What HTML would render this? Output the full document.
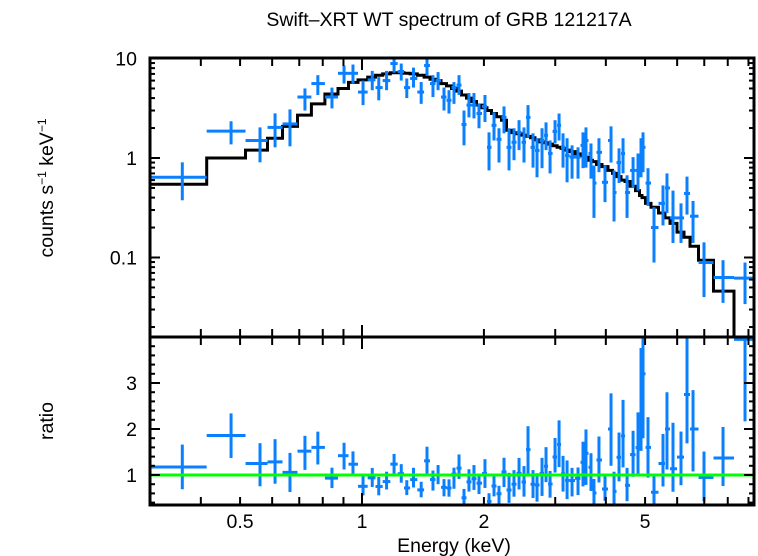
<!DOCTYPE html>
<html><head><meta charset="utf-8"><style>
html,body{margin:0;padding:0;background:#fff;}
svg{display:block;font-family:"Liberation Sans",sans-serif;}
</style></head><body>
<svg id="chart" width="758" height="556" viewBox="0 0 758 556" xmlns="http://www.w3.org/2000/svg">
<rect width="758" height="556" fill="#fff"/>
<text x="449" y="26" font-size="19.5" text-anchor="middle">Swift–XRT WT spectrum of GRB 121217A</text>
<text transform="translate(53,188) rotate(-90)" font-size="19.5" text-anchor="middle">counts s<tspan font-size="12" dy="-7">−1</tspan><tspan dy="7"> keV</tspan><tspan font-size="12" dy="-7">−1</tspan></text>
<text transform="translate(53,421) rotate(-90)" font-size="19.5" text-anchor="middle">ratio</text>
<text x="454" y="552" font-size="19.5" text-anchor="middle">Energy (keV)</text>
<g id="g-model"></g>
<g id="g-data"></g>
<g id="g-ratio"></g>
<g id="g-axes"></g>
</svg>
<script>
const energies=[0.36,0.475,0.56,0.61,0.664,0.723,0.778,0.843,0.903,0.95,1.006,1.06,1.10,1.15,1.20,1.25,1.29,1.34,1.40,1.447,
1.497,1.541,1.594,1.640,1.687,1.736,1.786,1.837,1.890,1.945,2.012,2.059,2.118,2.179,2.242,2.307,2.373,2.442,2.512,2.570,
2.644,2.705,2.783,2.847,2.913,2.997,3.066,3.136,3.209,3.301,3.415,3.513,3.573,3.676,3.739,3.847,3.981,4.120,4.191,4.312,
4.411,4.513,4.670,4.803,4.886,4.942,5.084,5.260,5.536,5.663,5.860,6.133,6.346,6.567,6.990,7.788,8.826];
const counts=[0.64,1.86,1.5,2.03,2.2,4.1,5.6,4.1,7.1,7.1,4.6,6.1,5.1,6.0,8.9,7.4,5.1,6.3,4.6,8.5,
5.6,6.0,4.1,3.8,5.1,5.4,2.17,3.4,3.4,2.8,3.3,1.28,2.13,1.54,2.56,1.28,1.44,1.81,1.44,2.56,
1.28,1.19,1.5,1.69,1.11,1.85,2.13,1.28,1.06,1.02,1.02,1.34,1.5,1.11,0.56,1.14,0.57,1.5,0.45,0.9,
1.11,0.45,0.75,0.75,1.06,1.28,0.56,0.2,0.35,0.5,0.25,0.25,0.44,0.26,0.089,0.063,0.062];
const countsLo=[0.376,1.37,0.905,1.28,1.31,3.0,4.3,3.15,5.6,5.6,3.4,4.8,3.8,4.8,7.2,6.0,4.0,5.1,3.5,6.7,
4.1,4.8,3.0,2.8,3.5,4.3,1.34,2.56,2.5,1.99,2.3,0.75,1.5,0.9,1.77,0.75,0.95,1.2,0.9,1.6,
0.8,0.64,0.79,1.2,0.7,1.4,1.5,0.8,0.57,0.62,0.62,0.79,0.8,0.62,0.25,0.72,0.36,0.9,0.23,0.56,
0.7,0.25,0.5,0.47,0.64,0.72,0.33,0.089,0.21,0.28,0.14,0.14,0.27,0.14,0.04,0.035,0.034];
const countsHi=[0.905,2.34,2.03,2.81,3.08,5.0,6.8,5.1,8.5,8.7,6.0,7.5,6.5,7.5,10.5,8.9,6.3,8.1,5.8,10.5,
6.8,7.3,5.1,4.8,5.8,6.8,3.0,4.5,4.5,3.5,4.3,1.81,2.88,1.99,3.3,1.99,1.99,2.4,2.03,3.4,
1.77,1.58,1.99,2.28,1.5,2.4,2.8,1.77,1.58,1.34,1.28,1.81,2.03,1.4,0.84,1.58,0.84,2.08,0.75,1.25,
1.58,0.67,1.02,1.11,1.58,1.81,0.79,0.32,0.53,0.7,0.47,0.35,0.65,0.37,0.142,0.094,0.089];
const model=[0.545,1.0,1.2,1.58,2.08,2.7,3.5,4.4,5.0,5.75,6.1,6.5,6.8,7.0,7.2,7.2,7.1,7.0,6.8,6.5,
6.2,6.0,5.6,5.3,5.0,4.7,4.3,4.0,3.7,3.4,3.2,3.0,2.8,2.6,2.4,1.9,1.8,1.75,1.7,1.65,
1.6,1.52,1.45,1.42,1.38,1.33,1.28,1.25,1.2,1.16,1.1,1.05,1.02,0.95,0.92,0.86,0.82,0.75,0.7,0.65,
0.6,0.58,0.52,0.47,0.42,0.4,0.35,0.32,0.28,0.25,0.22,0.18,0.16,0.13,0.094,0.046,0.0157];
const binLoFirst=0.30, binHiLast=9.3;
const xMajorTicks=[0.5,1,2,5];
const xMajorLabels=["0.5","1","2","5"];
const yTopTicks=[10,1,0.1];
const yTopLabels=["10","1","0.1"];
const yRatioTicks=[1,2,3];
const yRatioLabels=["1","2","3"];

const L=150,R=754,T1=58,B1=337,B2=505;
const X=e=>362+405*Math.log10(e);
const Y1=v=>158-99.5*Math.log10(v);
const Y2=r=>475-46*(r-1);
const NS="http://www.w3.org/2000/svg";
function mk(tag,attrs,parent){const el=document.createElementNS(NS,tag);for(const k in attrs)el.setAttribute(k,attrs[k]);parent.appendChild(el);return el;}
const clamp=(v,a,b)=>Math.max(a,Math.min(b,v));
const BLUE="#0a80ff";
const n=energies.length;
const lo=[],hi=[];
for(let i=0;i<n;i++){
  lo.push(i===0?binLoFirst:Math.sqrt(energies[i-1]*energies[i]));
  hi.push(i===n-1?binHiLast:Math.sqrt(energies[i]*energies[i+1]));
}
const gm=document.getElementById('g-model');
let d="";
for(let i=0;i<n;i++){
  const y=clamp(Y1(model[i]),T1,B1);
  d+=(i===0?"M":"L")+X(lo[i]).toFixed(1)+","+y.toFixed(1)+"L"+Math.min(X(hi[i]),R).toFixed(1)+","+y.toFixed(1);
}
const mp=mk('path',{d:d,fill:'none',stroke:'#000','stroke-width':3},gm);


const gd=document.getElementById('g-data');
const gr=document.getElementById('g-ratio');
for(let i=0;i<n;i++){
  const cx=X(energies[i]);
  const x1=Math.max(X(lo[i]),L),x2=Math.min(X(hi[i]),R);
  const g=mk('g',{stroke:BLUE,'stroke-width':3},gd);
  
  
  const y=Y1(counts[i]);
  mk('line',{x1:x1,x2:x2,y1:y,y2:y},g);
  mk('line',{x1:cx,x2:cx,y1:clamp(Y1(countsHi[i]),T1,B1),y2:clamp(Y1(countsLo[i]),T1,B1)},g);
  const r=counts[i]/model[i],rl=countsLo[i]/model[i],rh=countsHi[i]/model[i];
  const g2=mk('g',{stroke:BLUE,'stroke-width':3},gr);
  
  
  const yr=Y2(r);
  if(yr>=B1&&yr<=B2) mk('line',{x1:x1,x2:x2,y1:yr,y2:yr},g2);
  const ya=clamp(Y2(rh),B1,B2),yb=clamp(Y2(rl),B1,B2);
  if(yb>ya) mk('line',{x1:cx,x2:cx,y1:ya,y2:yb},g2);
}
const gl=mk('line',{x1:L,x2:R,y1:Y2(1),y2:Y2(1),stroke:'#00ff00','stroke-width':3},gr);


const ga=document.getElementById('g-axes');
const f1=mk('rect',{x:L,y:T1,width:R-L,height:B1-T1,fill:'none',stroke:'#000','stroke-width':3},ga);


const f2=mk('rect',{x:L,y:B1,width:R-L,height:B2-B1,fill:'none',stroke:'#000','stroke-width':3},ga);


const tk={stroke:'#000','stroke-width':2};
const xs=[0.4,0.5,0.6,0.7,0.8,0.9,1,2,3,4,5,6,7,8,9];
for(const e of xs){
  const x=X(e);if(x<L||x>R)continue;
  const len=(e===1)?12:8;
  for(const [yt,yb] of [[T1,B1],[B1,B2]]){
    mk('line',Object.assign({x1:x,x2:x,y1:yt,y2:yt+len},tk),ga);
    mk('line',Object.assign({x1:x,x2:x,y1:yb,y2:yb-len},tk),ga);
  }
}
xMajorTicks.forEach((e,i)=>{
  const t=mk('text',{x:X(e),y:528,'font-size':19.5,'text-anchor':'middle'},ga);
  t.textContent=xMajorLabels[i];
  
  
});
for(let dec=-2;dec<=1;dec++){
  for(let m=1;m<10;m++){
    const v=m*Math.pow(10,dec);const y=Y1(v);
    if(y<T1-1||y>B1)continue;
    const len=m===1?10:5;
    mk('line',Object.assign({x1:L,x2:L+len,y1:y,y2:y},tk),ga);
    mk('line',Object.assign({x1:R,x2:R-len,y1:y,y2:y},tk),ga);
  }
}
yTopTicks.forEach((v,i)=>{
  const t=mk('text',{x:137,y:Y1(v)+7,'font-size':19.5,'text-anchor':'end'},ga);
  t.textContent=yTopLabels[i];
  
  
});
for(let k=2;k<=20;k++){
  const r=k*0.2;const y=Y2(r);if(y<B1||y>B2)continue;
  const len=(k%5===0)?10:5;
  mk('line',Object.assign({x1:L,x2:L+len,y1:y,y2:y},tk),ga);
  mk('line',Object.assign({x1:R,x2:R-len,y1:y,y2:y},tk),ga);
}
yRatioTicks.forEach((v,i)=>{
  const t=mk('text',{x:137,y:Y2(v)+7,'font-size':19.5,'text-anchor':'end'},ga);
  t.textContent=yRatioLabels[i];
  
  
});
</script>
</body></html>
